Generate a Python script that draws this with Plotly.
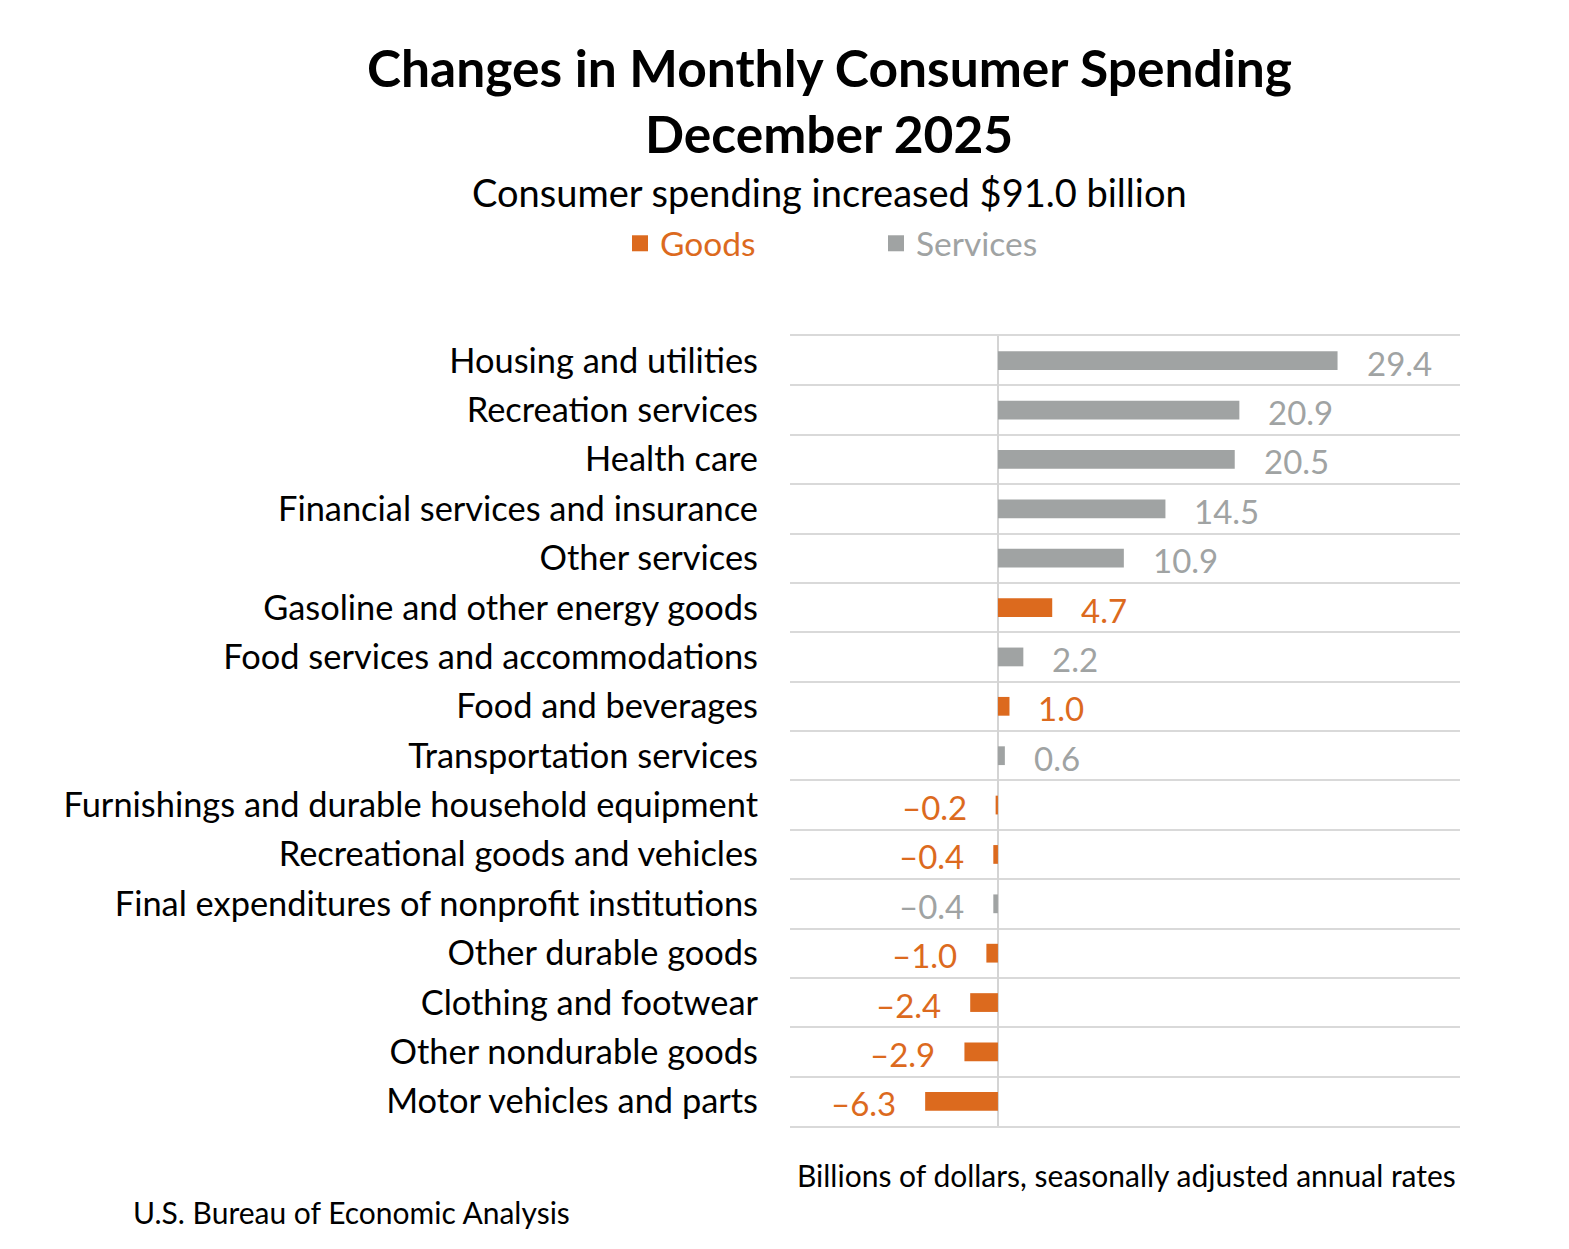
import plotly.graph_objects as go

categories = [
    "Housing and utilities",
    "Recreation services",
    "Health care",
    "Financial services and insurance",
    "Other services",
    "Gasoline and other energy goods",
    "Food services and accommodations",
    "Food and beverages",
    "Transportation services",
    "Furnishings and durable household equipment",
    "Recreational goods and vehicles",
    "Final expenditures of nonprofit institutions",
    "Other durable goods",
    "Clothing and footwear",
    "Other nondurable goods",
    "Motor vehicles and parts",
]
values = [29.4, 20.9, 20.5, 14.5, 10.9, 4.7, 2.2, 1.0, 0.6, -0.2, -0.4, -0.4, -1.0, -2.4, -2.9, -6.3]
types = ["S", "S", "S", "S", "S", "G", "S", "G", "S", "G", "G", "S", "G", "G", "G", "G"]

GOODS = "#DC6A1E"
SERV = "#A0A3A3"
FONT = "Lato"

W, H = 1569, 1249
OFF = 8  # page body offset
PL, PR, PT, PB = 790, 1460, 336, 1126  # plot area in reference pixels


def fmt(v):
    s = f"{abs(v):.1f}"
    return ("\u2013" + s) if v < 0 else s


def px(x):
    return (x - PL) / (PR - PL)


def py(y):
    return (PB - y) / (PB - PT)


fig = go.Figure()
for key, name, color, leg in [("G", "Goods", GOODS, "legend"), ("S", "Services", SERV, "legend2")]:
    cats = [c for c, t in zip(categories, types) if t == key]
    vals = [v for v, t in zip(values, types) if t == key]
    fig.add_trace(go.Bar(
        y=cats, x=vals, orientation="h", name=name,
        marker=dict(color=color, line=dict(width=0)),
        width=0.38, showlegend=False, hoverinfo="skip",
    ))
    # legend entry with a larger square swatch
    fig.add_trace(go.Scatter(
        x=[None], y=[None], mode="markers", name=name, legend=leg,
        marker=dict(symbol="square", size=20, color=color), hoverinfo="skip",
    ))

for c, v, t in zip(categories, values, types):
    color = GOODS if t == "G" else SERV
    fig.add_annotation(
        x=v, y=c, xref="x", yref="y", text=fmt(v), showarrow=False,
        xanchor="left" if v >= 0 else "right",
        xshift=27 if v >= 0 else -27, yshift=-2,
        font=dict(family=FONT, size=33, color=color),
    )

fig.update_layout(
    width=W, height=H,
    margin=dict(l=PL - OFF, r=W - (PR - OFF), t=PT - OFF, b=H - (PB - OFF)),
    paper_bgcolor="white", plot_bgcolor="white",
    barmode="relative",
    font=dict(family=FONT, size=33, color="#000000"),
    xaxis=dict(range=[-18, 40], showgrid=False, showticklabels=False, ticks="",
               zeroline=True, zerolinecolor="#D4D4D4", zerolinewidth=2, fixedrange=True,
               showline=True, linecolor="#D9D9D9", linewidth=2, mirror=True),
    yaxis=dict(type="category", categoryorder="array", categoryarray=categories,
               autorange="reversed", tickson="boundaries", showgrid=True,
               gridcolor="#D9D9D9", gridwidth=2, ticks="", ticklabelstandoff=31,
               showline=False, zeroline=False,
               tickfont=dict(family=FONT, size=34.4, color="#000000")),
    legend=dict(x=(620 - OFF) / W, y=1 - (215 - OFF) / H, xref="container", yref="container",
                xanchor="left", yanchor="top", orientation="h",
                font=dict(family=FONT, size=33.5, color=GOODS),
                itemwidth=30, bgcolor="rgba(0,0,0,0)"),
    legend2=dict(x=(876 - OFF) / W, y=1 - (215 - OFF) / H, xref="container", yref="container",
                 xanchor="left", yanchor="top", orientation="h",
                 font=dict(family=FONT, size=33.5, color=SERV),
                 itemwidth=30, bgcolor="rgba(0,0,0,0)"),
    showlegend=True,
)

fig.add_annotation(text="<b>Changes in Monthly Consumer Spending</b>", xref="paper", yref="paper",
                   x=px(829), y=py(67), xanchor="center", yanchor="middle", showarrow=False,
                   font=dict(family=FONT, size=51.5, color="#000000"))
fig.add_annotation(text="<b>December 2025</b>", xref="paper", yref="paper",
                   x=px(829), y=py(133), xanchor="center", yanchor="middle", showarrow=False,
                   font=dict(family=FONT, size=51.5, color="#000000"))
fig.add_annotation(text="Consumer spending increased $91.0 billion", xref="paper", yref="paper",
                   x=px(829), y=py(192), xanchor="center", yanchor="middle", showarrow=False,
                   font=dict(family=FONT, size=38, color="#000000"))
fig.add_annotation(text="Billions of dollars, seasonally adjusted annual rates", xref="paper", yref="paper",
                   x=px(1458), y=py(1175), xanchor="right", yanchor="middle", showarrow=False,
                   font=dict(family=FONT, size=30, color="#000000"))
fig.add_annotation(text="U.S. Bureau of Economic Analysis", xref="paper", yref="paper",
                   x=px(131), y=py(1212), xanchor="left", yanchor="middle", showarrow=False,
                   font=dict(family=FONT, size=30, color="#000000"))

fig.write_html("out.html")
